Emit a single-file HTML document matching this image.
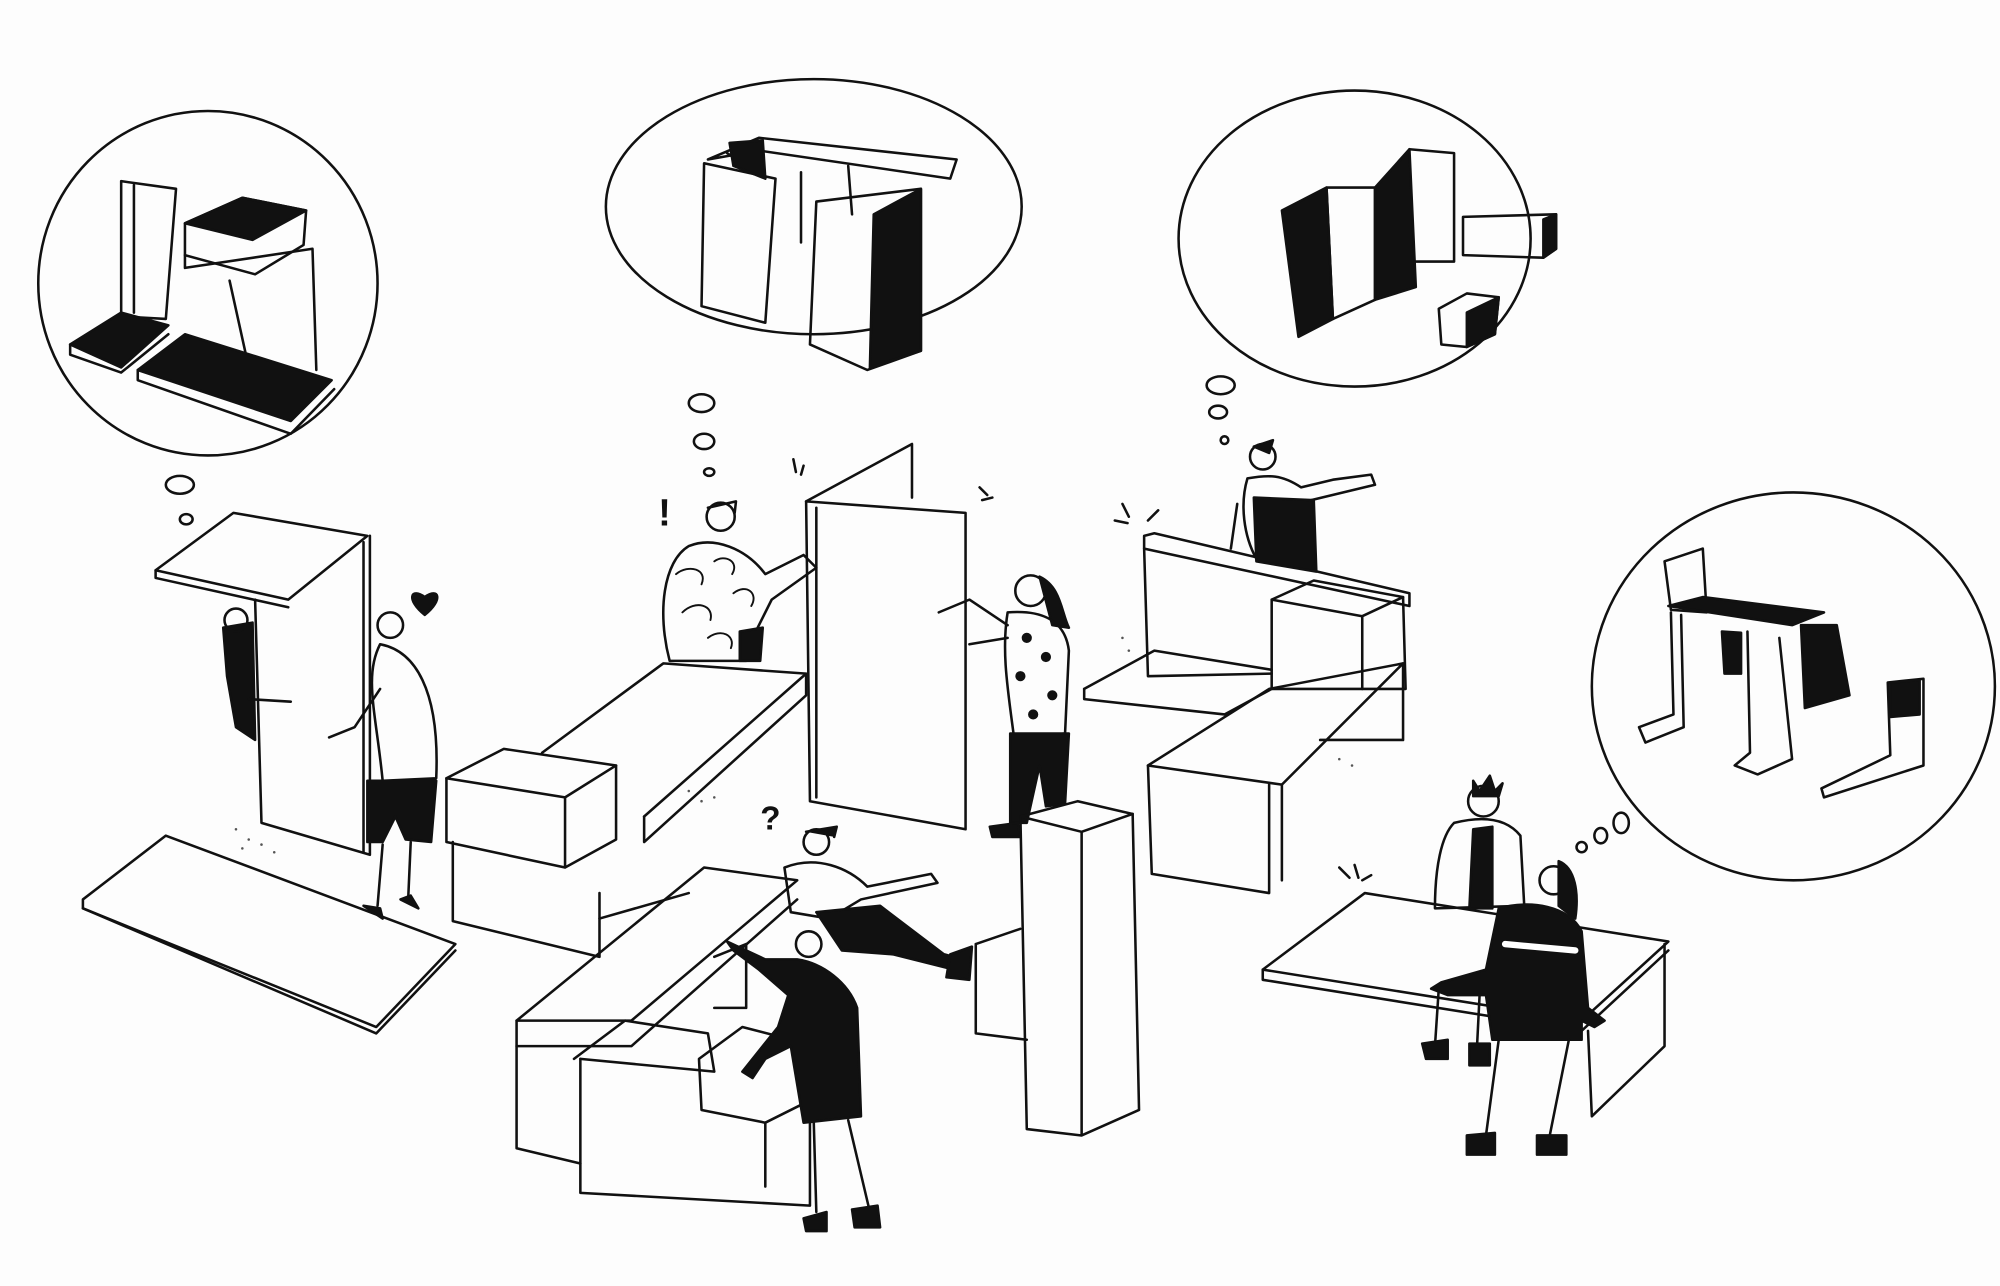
<!DOCTYPE html>
<html><head><meta charset="utf-8"><style>
html,body{margin:0;padding:0;background:#fdfdfd;}
svg{display:block;}
</style></head><body>
<svg width="2000" height="1286" viewBox="0 0 1568 1008" preserveAspectRatio="none" xmlns="http://www.w3.org/2000/svg">
<rect width="1568" height="1008" fill="#fdfdfd"/>
<g fill="none" stroke="#111" stroke-width="2" stroke-linejoin="round" stroke-linecap="round">
<!-- bubbles -->
<ellipse cx="163" cy="222" rx="133" ry="135"/>
<ellipse cx="638" cy="162" rx="163" ry="100"/>
<ellipse cx="1062" cy="187" rx="138" ry="116"/>
<ellipse cx="1406" cy="538" rx="158" ry="152"/>
<ellipse cx="141" cy="380" rx="11" ry="7"/><ellipse cx="146" cy="407" rx="5" ry="4"/>
<ellipse cx="550" cy="316" rx="10" ry="7"/><ellipse cx="552" cy="346" rx="8" ry="6"/><ellipse cx="556" cy="370" rx="4" ry="3"/>
<ellipse cx="957" cy="302" rx="11" ry="7"/><ellipse cx="955" cy="323" rx="7" ry="5"/><ellipse cx="960" cy="345" rx="3" ry="3"/>
<ellipse cx="1271" cy="645" rx="6" ry="8"/><ellipse cx="1255" cy="655" rx="5" ry="6"/><ellipse cx="1240" cy="664" rx="4" ry="4"/>

<!-- bubble 1 contents -->
<path d="M95 142 L138 148 L130 250 L95 248 Z"/>
<path d="M105 145 L105 245"/>
<path d="M145 175 L190 155 L240 165 L238 192 L200 215 L145 200 Z"/>
<path d="M145 175 L190 155 L240 165 L198 188 Z" fill="#111"/>
<path d="M145 200 L145 210 L245 195 L248 290"/>
<path d="M180 220 L195 288"/>
<path d="M55 270 L95 245 L132 255 L95 288 Z" fill="#111"/>
<path d="M55 270 L55 278 L95 292 L132 262"/>
<path d="M108 290 L145 262 L260 298 L228 330 Z" fill="#111"/>
<path d="M108 290 L108 298 L228 340 L262 305"/>

<!-- bubble 2 contents -->
<path d="M555 125 L595 108 L750 125 L745 140 L595 118 Z"/>
<path d="M552 128 L608 140 L600 253 L550 240 Z"/>
<path d="M570 120 L600 140" />
<path d="M572 112 L575 130 L600 140 L598 110 Z" fill="#111"/>
<path d="M640 158 L722 148 L722 275 L680 290 L635 270 Z"/>
<path d="M685 168 L722 148 L722 275 L682 288 Z" fill="#111"/>
<path d="M665 130 L668 168"/><path d="M628 135 L628 190"/>

<!-- bubble 3 contents -->
<path d="M1005 165 L1040 147 L1045 250 L1018 264 Z" fill="#111"/>
<path d="M1040 147 L1078 147 L1078 235 L1045 250 Z"/>
<path d="M1078 147 L1105 117 L1110 225 L1078 235 Z" fill="#111"/>
<path d="M1105 117 L1140 120 L1140 205 L1110 205"/>
<path d="M1147 170 L1220 168 L1220 195 L1210 202 L1147 200 Z"/>
<path d="M1210 172 L1220 168 L1220 195 L1210 202 Z" fill="#111"/>
<path d="M1128 242 L1150 230 L1175 233 L1172 262 L1150 272 L1130 270 Z"/>
<path d="M1150 245 L1175 233 L1172 262 L1150 272 Z" fill="#111"/>

<!-- bubble 4 contents -->
<path d="M1305 440 L1335 430 L1338 480 L1310 478 Z"/>
<path d="M1308 475 L1405 490 L1430 480 L1335 468 Z" fill="#111"/>
<path d="M1310 480 L1312 560 L1285 570 L1290 582 L1320 570 L1318 482"/>
<path d="M1350 495 L1352 528 L1365 528 L1365 496 Z" fill="#111"/>
<path d="M1370 495 L1372 590 L1360 600 L1378 607 L1405 595 L1395 500"/>
<path d="M1412 490 L1415 555 L1450 545 L1440 490 Z" fill="#111"/>
<path d="M1480 535 L1508 532 L1508 600 L1430 625 L1428 618 L1482 592 Z"/>
<path d="M1482 535 L1505 533 L1505 560 L1482 562 Z" fill="#111"/>

<!-- left group -->
<path d="M122 447 L183 402 L288 420 L226 470 Z"/>
<path d="M122 447 L122 453 L226 476"/>
<path d="M200 470 L205 645 L290 670 L290 420"/>
<path d="M285 425 L285 668"/>
<path d="M65 705 L130 655 L357 740 L295 805 L65 712 Z"/>
<path d="M65 712 L295 810 L357 745"/>
<path d="M333 482 C318 470 322 460 333 468 C344 460 348 470 333 482 Z" fill="#111"/>
<!-- woman left -->
<path d="M175 492 L198 488 L200 580 L185 570 L178 530 Z" fill="#111"/>
<circle cx="185" cy="486" r="9"/>
<path d="M195 548 L228 550"/>
<!-- man left -->
<circle cx="306" cy="490" r="10"/>
<path d="M298 505 C325 510 345 540 342 610 L300 612 C295 560 285 530 298 505 Z"/>
<path d="M288 612 L342 612 L338 660 L318 658 L310 640 L300 660 L288 660 Z" fill="#111"/>
<path d="M300 662 L296 710 M322 660 L320 705"/>
<path d="M285 710 L300 720 L298 712 Z M314 705 L328 712 L322 702 Z" fill="#111"/>
<path d="M298 540 L278 570 L258 578"/>

<!-- center bench & box -->
<path d="M425 590 L520 520 L632 528 L505 640"/>
<path d="M632 528 L632 545 L505 660 L505 640"/>
<path d="M350 610 L395 587 L483 600 L443 625 Z"/>
<path d="M350 610 L350 660 L443 680 L443 625 M483 600 L483 658 L443 680"/>
<path d="M355 660 L355 722 L470 750 L470 700"/>
<path d="M470 720 L540 700"/>
<!-- panel -->
<path d="M632 393 L715 348 L715 390"/>
<path d="M632 393 L757 402 L757 650 L635 628 Z"/>
<path d="M640 398 L640 625"/>
<!-- seated person with pattern -->
<circle cx="565" cy="405" r="11"/>
<path d="M555 398 L577 393 L576 402" />
<path d="M540 428 C560 420 585 430 600 450 L630 435 L640 445 L605 470 L590 500 L585 518 L525 518 C515 480 520 440 540 428 Z"/>
<path d="M530 450 c10 -8 25 -4 20 8 M535 480 c10 -10 25 -6 22 6 M560 440 c8 -6 20 0 14 10 M555 500 c10 -8 22 -2 18 8 M575 465 c10 -8 20 0 14 10" stroke-width="1.5"/>
<path d="M580 495 L598 492 L596 518 L580 518 Z" fill="#111"/>
<!-- woman standing center -->
<circle cx="808" cy="463" r="12"/>
<path d="M815 452 C832 460 832 480 838 492 L825 490 Z" fill="#111"/>
<path d="M790 480 C815 478 835 485 838 510 L835 575 L795 578 C790 540 785 510 790 480 Z"/>
<path d="M790 490 L760 470 L736 480 M790 500 L760 505"/>
<circle cx="805" cy="500" r="3" fill="#111"/><circle cx="820" cy="515" r="3" fill="#111"/><circle cx="800" cy="530" r="3" fill="#111"/><circle cx="825" cy="545" r="3" fill="#111"/><circle cx="810" cy="560" r="3" fill="#111"/>
<path d="M792 575 L838 575 L835 630 L820 632 L815 600 L805 645 L792 645 Z" fill="#111"/>
<path d="M776 648 L798 645 L800 656 L778 656 Z" fill="#111"/>

<!-- tall pillar -->
<path d="M800 640 L845 628 L888 638 L848 652 Z"/>
<path d="M800 640 L805 885 L848 890 L848 652 M888 638 L893 870 L848 890"/>
<path d="M765 740 L800 728 M765 740 L765 810 L805 815"/>

<!-- middle lower: stairs -->
<path d="M405 800 L552 680 L625 690 L495 800 Z"/>
<path d="M405 800 L405 820 L495 820 L625 705"/>
<path d="M405 820 L405 900 L455 912 L455 830"/>
<path d="M450 830 L490 800 L555 810 L560 840 L455 830"/>
<path d="M455 912 L455 935 L635 945 L635 880"/>
<path d="M548 830 L582 805 L640 820 L640 860 L600 880 L550 870 Z"/>
<path d="M600 880 L600 930"/>
<path d="M560 750 L585 740 M585 740 L585 790 L560 790"/>
<!-- man sitting with ? -->
<circle cx="640" cy="660" r="10"/>
<path d="M632 652 L656 648 L654 656" fill="#111"/>
<path d="M615 680 C640 670 665 680 680 695 L730 685 L735 692 L675 705 L650 720 L620 715 Z"/>
<path d="M640 715 L690 710 L740 748 L755 752 L748 760 L700 748 L660 745 Z" fill="#111"/>
<path d="M745 748 L762 742 L760 768 L742 766 Z" fill="#111"/>
<!-- man at bottom black jacket -->
<circle cx="634" cy="740" r="10"/>
<path d="M625 752 C645 755 665 770 672 790 L675 875 L630 880 L620 820 L600 830 L590 845 L582 840 L610 805 L618 780 L595 760 L575 745 L570 738 L600 752 Z" fill="#111"/>
<path d="M638 880 L640 950 M665 878 L682 950"/>
<path d="M630 955 L648 950 L648 965 L632 965 Z M668 948 L688 945 L690 962 L670 962 Z" fill="#111"/>
<!-- right wall group -->
<path d="M897 420 L905 418 L1105 465 L1105 475 L897 430 Z"/>
<path d="M897 430 L900 530 L997 528"/>
<path d="M850 540 L905 510 L997 525"/>
<path d="M850 540 L850 548 L960 560 L997 540"/>
<path d="M997 470 L1030 455 L1100 468 L1102 540 L997 540 Z"/>
<path d="M997 470 L1068 483 L1068 540 M1068 483 L1100 468"/>
<path d="M900 600 L995 540 L1100 520 L1005 615 Z"/>
<path d="M900 600 L903 685 L995 700 L995 615 M1005 615 L1005 690 M1100 520 L1100 580 L1035 580"/>
<!-- man behind wall -->
<circle cx="990" cy="358" r="10"/>
<path d="M983 350 L998 345 L995 355 Z" fill="#111"/>
<path d="M978 375 C995 372 1005 372 1020 382 L1045 376 L1075 372 L1078 380 L1028 392 L1030 445 L985 438 C975 420 972 395 978 375 Z"/>
<path d="M983 390 L1030 392 L1032 448 L985 440 Z" fill="#111"/>
<path d="M970 395 L965 430"/>
<!-- right table -->
<path d="M990 760 L1070 700 L1308 738 L1240 800 Z"/>
<path d="M990 760 L990 768 L1240 808 L1308 745"/>
<path d="M1245 808 L1248 875 L1305 820 L1305 740"/>
<!-- man behind table -->
<circle cx="1163" cy="628" r="12"/>
<path d="M1155 612 L1160 620 L1168 608 L1172 620 L1178 614 L1175 624 L1155 624 Z" fill="#111"/>
<path d="M1140 645 C1160 640 1180 640 1192 655 L1195 710 L1125 712 C1125 680 1130 655 1140 645 Z"/>
<path d="M1155 650 L1170 648 L1170 712 L1152 712 Z" fill="#111"/>
<path d="M1128 775 L1125 820 M1160 780 L1158 820"/>
<path d="M1115 818 L1135 815 L1135 830 L1118 830 Z M1152 818 L1168 818 L1168 835 L1152 835 Z" fill="#111"/>
<!-- woman with black top -->
<circle cx="1218" cy="690" r="11"/>
<path d="M1222 675 C1235 680 1238 700 1235 720 L1222 710 Z" fill="#111"/>
<path d="M1175 712 C1200 705 1230 710 1240 730 L1245 790 L1258 800 L1250 805 L1240 800 L1240 815 L1170 815 L1165 780 L1135 780 L1122 775 L1130 770 L1165 760 Z" fill="#111"/>
<path d="M1180 740 L1235 745" stroke="#fff" stroke-width="5"/>
<path d="M1175 815 L1165 890 M1230 815 L1215 890"/>
<path d="M1150 890 L1172 888 L1172 905 L1150 905 Z M1205 890 L1228 890 L1228 905 L1205 905 Z" fill="#111"/>
<!-- marks -->
<path d="M622 360 L624 370 M630 365 L628 372 M768 382 L774 388 M770 392 L778 390 M880 395 L885 405 M874 408 L884 410 M908 400 L900 408 M1050 680 L1058 688 M1062 678 L1065 688 M1075 686 L1068 690"/>
</g>
<g fill="#555">
<circle cx="185" cy="650" r="1"/><circle cx="195" cy="658" r="1"/><circle cx="205" cy="662" r="1"/><circle cx="190" cy="665" r="1"/><circle cx="215" cy="668" r="1"/>
<circle cx="540" cy="620" r="1"/><circle cx="550" cy="628" r="1"/><circle cx="560" cy="625" r="1"/>
<circle cx="880" cy="500" r="1"/><circle cx="885" cy="510" r="1"/><circle cx="1050" cy="595" r="1"/><circle cx="1060" cy="600" r="1"/>
</g>
<text x="516" y="412" font-family="Liberation Sans, sans-serif" font-size="30" font-weight="bold" fill="#111">!</text>
<text x="596" y="650" font-family="Liberation Sans, sans-serif" font-size="26" font-weight="bold" fill="#111">?</text>
</svg>
</body></html>
